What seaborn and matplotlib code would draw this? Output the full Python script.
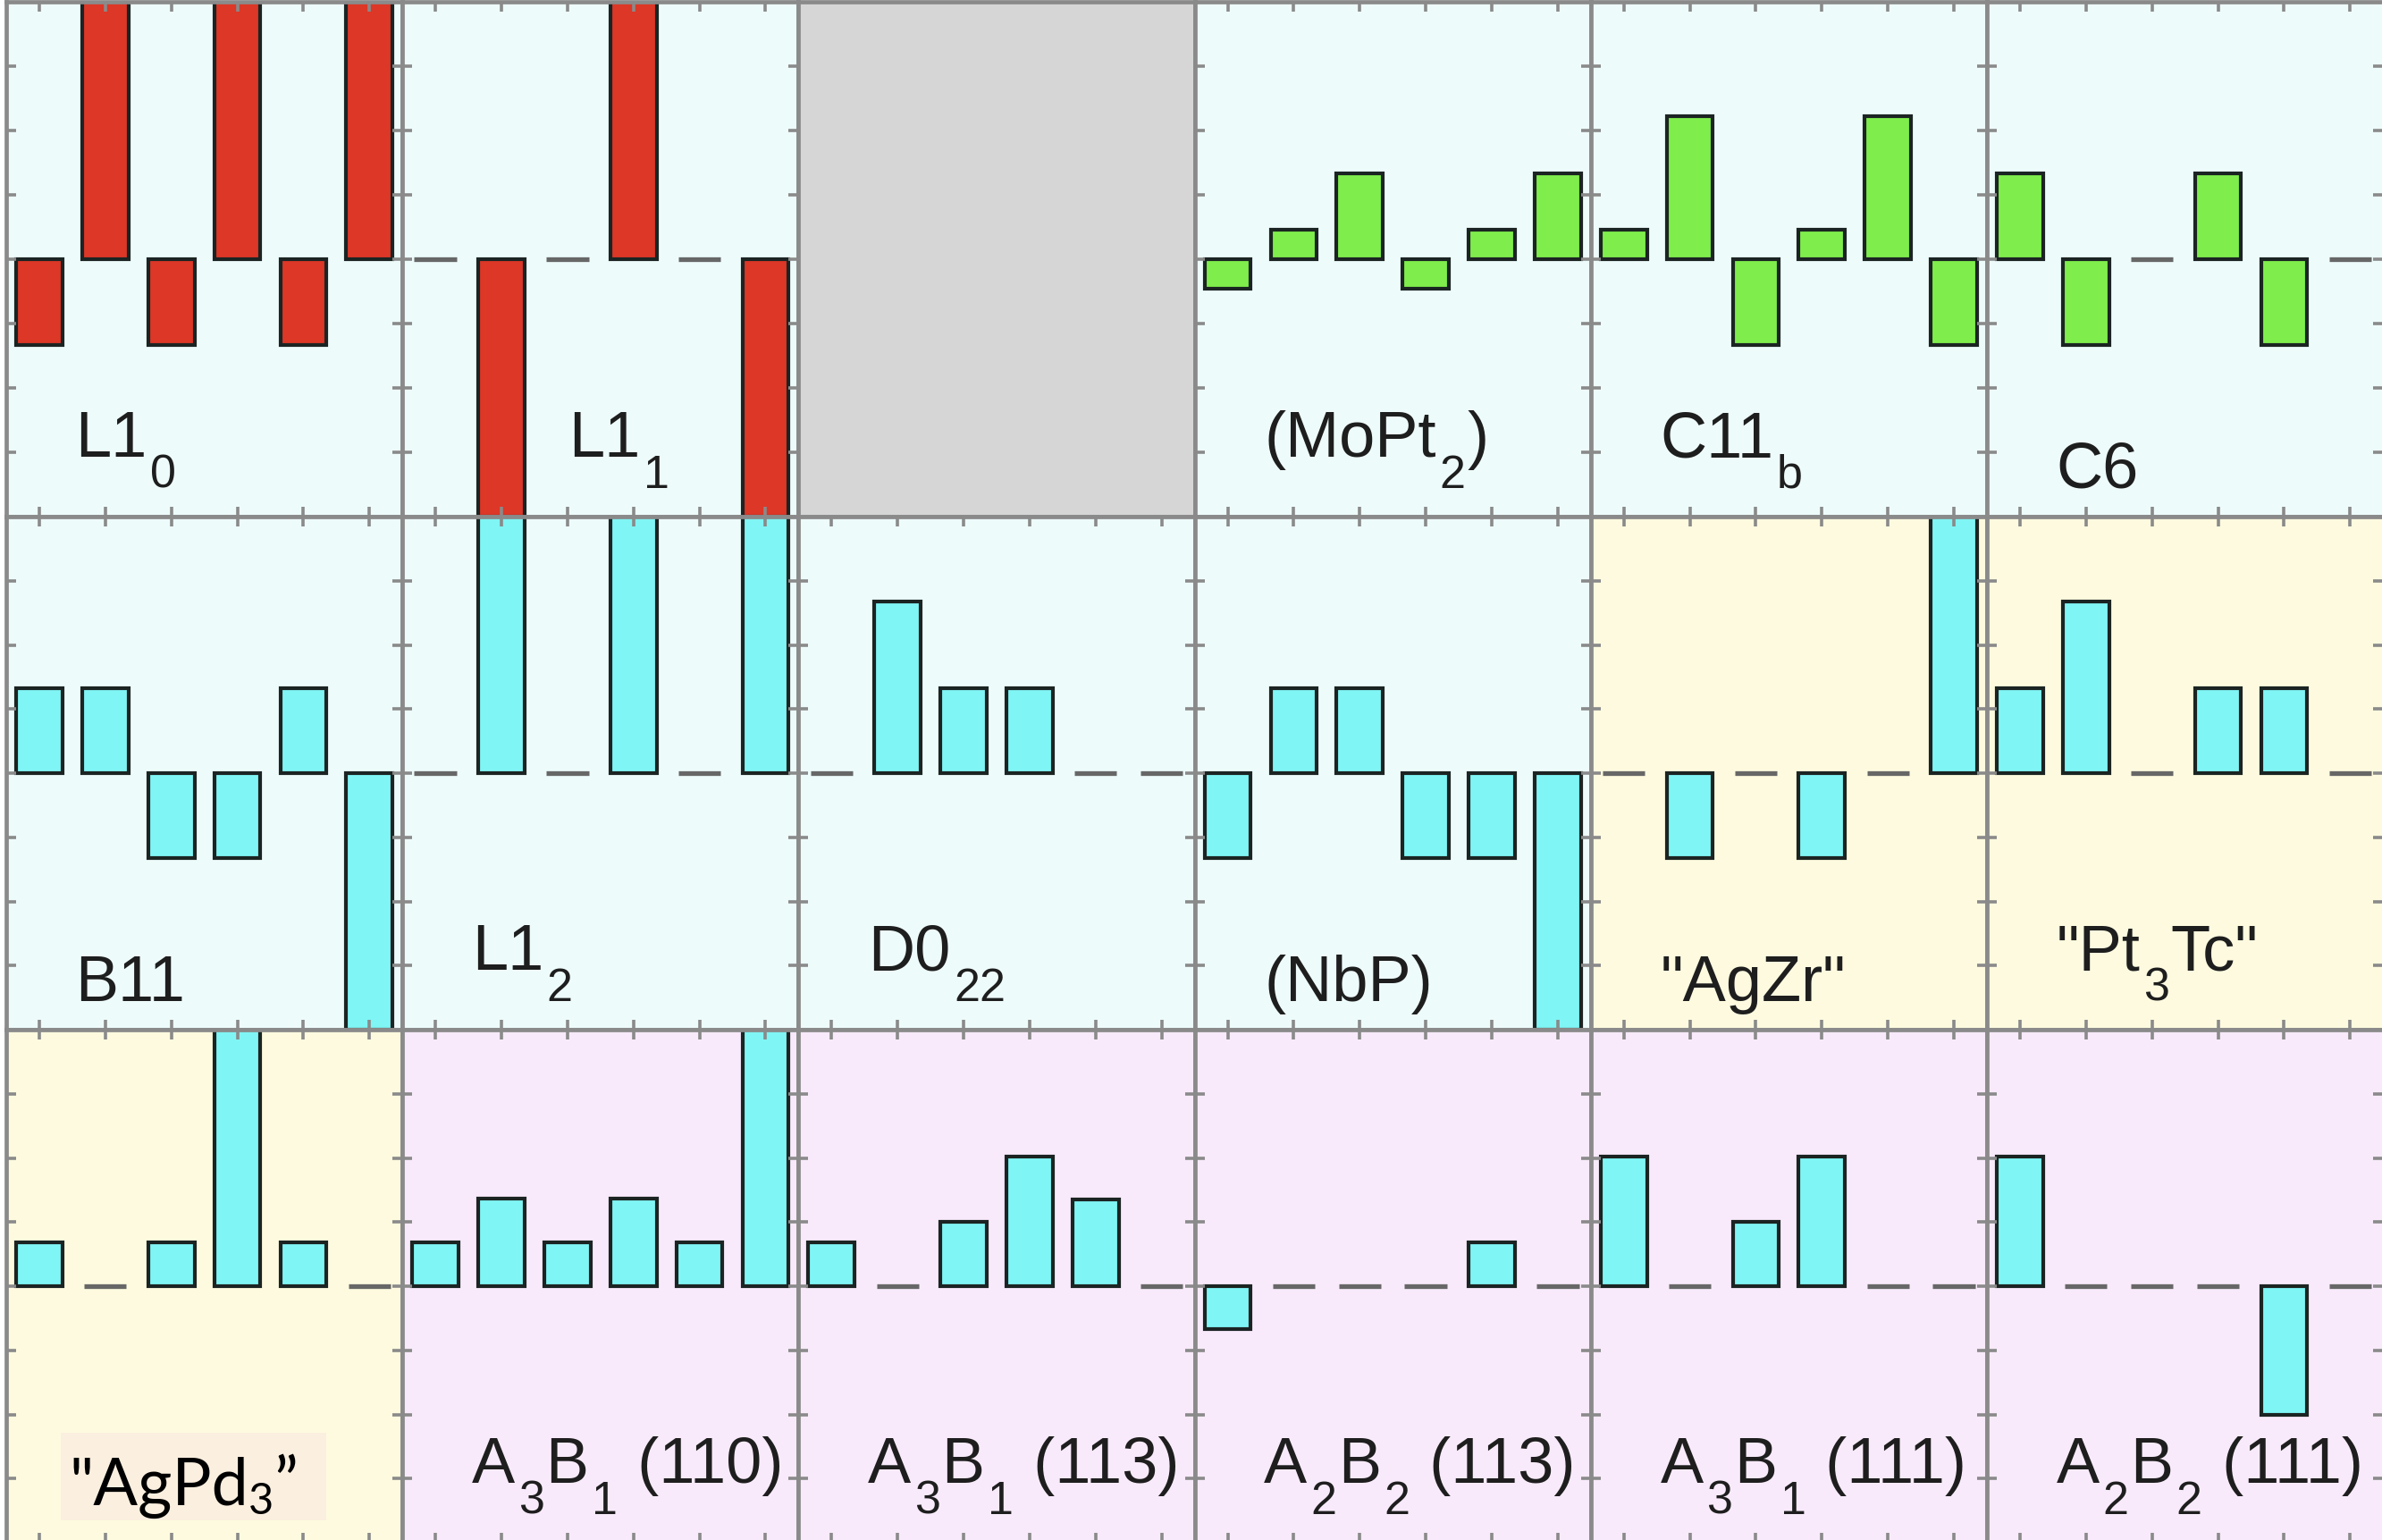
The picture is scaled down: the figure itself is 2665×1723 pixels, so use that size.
import re
import numpy as np
import pandas as pd
import matplotlib
matplotlib.use("Agg")
import matplotlib.pyplot as plt
import matplotlib.transforms as mtransforms
from matplotlib.patches import Rectangle
import seaborn as sns

# ---- data: six sites per structure, values in correlation units ----
sites = [0, 1, 2, 3, 4, 5]

l1_0 = [-1.33, 4, -1.33, 4, -1.33, 4]
l1_1 = [0, -4, 0, 4, 0, -4]
mopt2 = [-0.46, 0.46, 1.34, -0.46, 0.46, 1.34]
c11b = [0.46, 2.22, -1.34, 0.46, 2.22, -1.34]
c6 = [1.34, -1.34, 0, 1.34, -1.34, 0]

b11 = [1.33, 1.33, -1.33, -1.33, 1.33, -4]
l1_2 = [0, 4, 0, 4, 0, 4]
d0_22 = [0, 2.67, 1.33, 1.33, 0, 0]
nbp = [-1.33, 1.33, 1.33, -1.33, -1.33, -4]
agzr = [0, -1.33, 0, -1.33, 0, 4]
pt3tc = [1.33, 2.67, 0, 1.33, 1.33, 0]

agpd3 = [0.68, 0, 0.68, 4, 0.68, 0]
a3b1_110 = [0.68, 1.36, 0.68, 1.36, 0.68, 4]
a3b1_113 = [0.68, 0, 1.0, 2.02, 1.35, 0]
a2b2_113 = [-0.67, 0, 0, 0, 0.68, 0]
a3b1_111 = [2.02, 0, 1.0, 2.02, 0, 0]
a2b2_111 = [2.02, 0, 0, 0, -2.0, 0]

labels = [
    ["L1_{0}", "L1_{1}", None, "(MoPt_{2})", "C11_{b}", "C6"],
    ["B11", "L1_{2}", "D0_{22}", "(NbP)", "\"AgZr\"", "\"Pt_{3}Tc\""],
    [None, "A_{3}B_{1} (110)", "A_{3}B_{1} (113)", "A_{2}B_{2} (113)",
     "A_{3}B_{1} (111)", "A_{2}B_{2} (111)"],
]
values = [
    [l1_0, l1_1, None, mopt2, c11b, c6],
    [b11, l1_2, d0_22, nbp, agzr, pt3tc],
    [agpd3, a3b1_110, a3b1_113, a2b2_113, a3b1_111, a2b2_111],
]
overlay_label = "\"AgPd_{3}\u201d"

# ---- styling ----
RED, GREEN, CYAN = "#dc3727", "#7fee4c", "#80f5f5"
BG_CYAN, BG_GREY, BG_YELLOW, BG_PINK = "#eefbfb", "#d6d6d6", "#fdfadf", "#f8eafa"
bar_colors = [
    [RED, RED, None, GREEN, GREEN, GREEN],
    [CYAN] * 6,
    [CYAN] * 6,
]
backgrounds = [
    [BG_CYAN, BG_CYAN, BG_GREY, BG_CYAN, BG_CYAN, BG_CYAN],
    [BG_CYAN, BG_CYAN, BG_CYAN, BG_CYAN, BG_YELLOW, BG_YELLOW],
    [BG_YELLOW, BG_PINK, BG_PINK, BG_PINK, BG_PINK, BG_PINK],
]
FRAME = "#8a8a8a"
EDGE = "#1b2422"
ZERO = "#676767"
TEXT = "#1e1e1e"

W, H, DPI = 2665, 1724, 100
fig = plt.figure(figsize=(W / DPI, H / DPI), dpi=DPI)
fig.patch.set_facecolor("white")
renderer = fig.canvas.get_renderer()

col_w = 443.2
col_edges = [7 + i * col_w for i in range(7)]
row_edges = [3, 579, 1153, 1727]


def draw_rich(ax, text, x, y, size, family, sub_scale=0.72, sub_drop=0.48,
              gap=0.05, color=TEXT, zorder=5):
    """Draw text with _{...} subscripts as consecutive text pieces."""
    dx = 0.0
    for part in re.split(r"(_\{[^}]*\})", text):
        if not part:
            continue
        is_sub = part.startswith("_{")
        s = part[2:-1] if is_sub else part
        fs = size * sub_scale if is_sub else size
        dy = -sub_drop * size if is_sub else 0.0
        if is_sub:
            dx += gap * size
        tr = mtransforms.offset_copy(ax.transAxes, fig=fig, x=dx, y=dy, units="points")
        t = ax.text(x, y, s, transform=tr, fontsize=fs, ha="left", va="baseline",
                    family=family, color=color, zorder=zorder)
        dx += t.get_window_extent(renderer=renderer).width * 72 / DPI
        if is_sub:
            dx += gap * size * 0.5
    return dx


for r in range(3):
    for c in range(6):
        x0, x1 = col_edges[c], col_edges[c + 1]
        y0, y1 = row_edges[r], row_edges[r + 1]
        ax = fig.add_axes([x0 / W, 1 - y1 / H, (x1 - x0) / W, (y1 - y0) / H])
        ax.set_facecolor(backgrounds[r][c])
        vals = values[r][c]

        if vals is not None:
            df = pd.DataFrame({"site": sites, "value": vals})
            nonzero = df[df["value"] != 0]
            sns.barplot(data=nonzero, x="site", y="value", order=sites, width=0.7,
                        color=bar_colors[r][c], saturation=1, edgecolor=EDGE,
                        linewidth=3.0, errorbar=None, ax=ax)
            zero_sites = df.loc[df["value"] == 0, "site"].to_numpy()
            if len(zero_sites):
                ax.hlines(np.zeros(len(zero_sites)), zero_sites - 0.32, zero_sites + 0.32,
                          color=ZERO, lw=3.8, zorder=0.9)
            ax.set_xticks(sites)
            ax.set_yticks([-3, -2, -1, 0, 1, 2, 3])
            ax.tick_params(direction="in", length=8, width=2.6, color=FRAME,
                           top=True, right=True, labelbottom=False, labelleft=False)
        else:
            ax.set_xticks([])
            ax.set_yticks([])

        ax.set_xlim(-0.5, 5.5)
        ax.set_ylim(-4, 4)
        ax.set_xlabel("")
        ax.set_ylabel("")
        for sp in ax.spines.values():
            sp.set_color(FRAME)
            sp.set_linewidth(3.4)

        lab = labels[r][c]
        if lab is not None:
            lx = 0.42 if (r == 0 and c == 1) else 0.175
            ly = 0.118 if "_{" in lab else 0.058
            draw_rich(ax, lab, lx, ly, 52, ["Liberation Sans", "DejaVu Sans"])

        if r == 2 and c == 0:
            ax.add_patch(Rectangle((0.138, 0.043), 0.67, 0.172, transform=ax.transAxes,
                                   facecolor="#fbefdf", edgecolor="none", zorder=4))
            draw_rich(ax, overlay_label, 0.158, 0.076, 53, ["Lato", "DejaVu Sans"],
                      sub_scale=0.66, sub_drop=0.14, gap=0.0, color="#000000")

fig.savefig("out.png", dpi=DPI, facecolor=fig.get_facecolor())
